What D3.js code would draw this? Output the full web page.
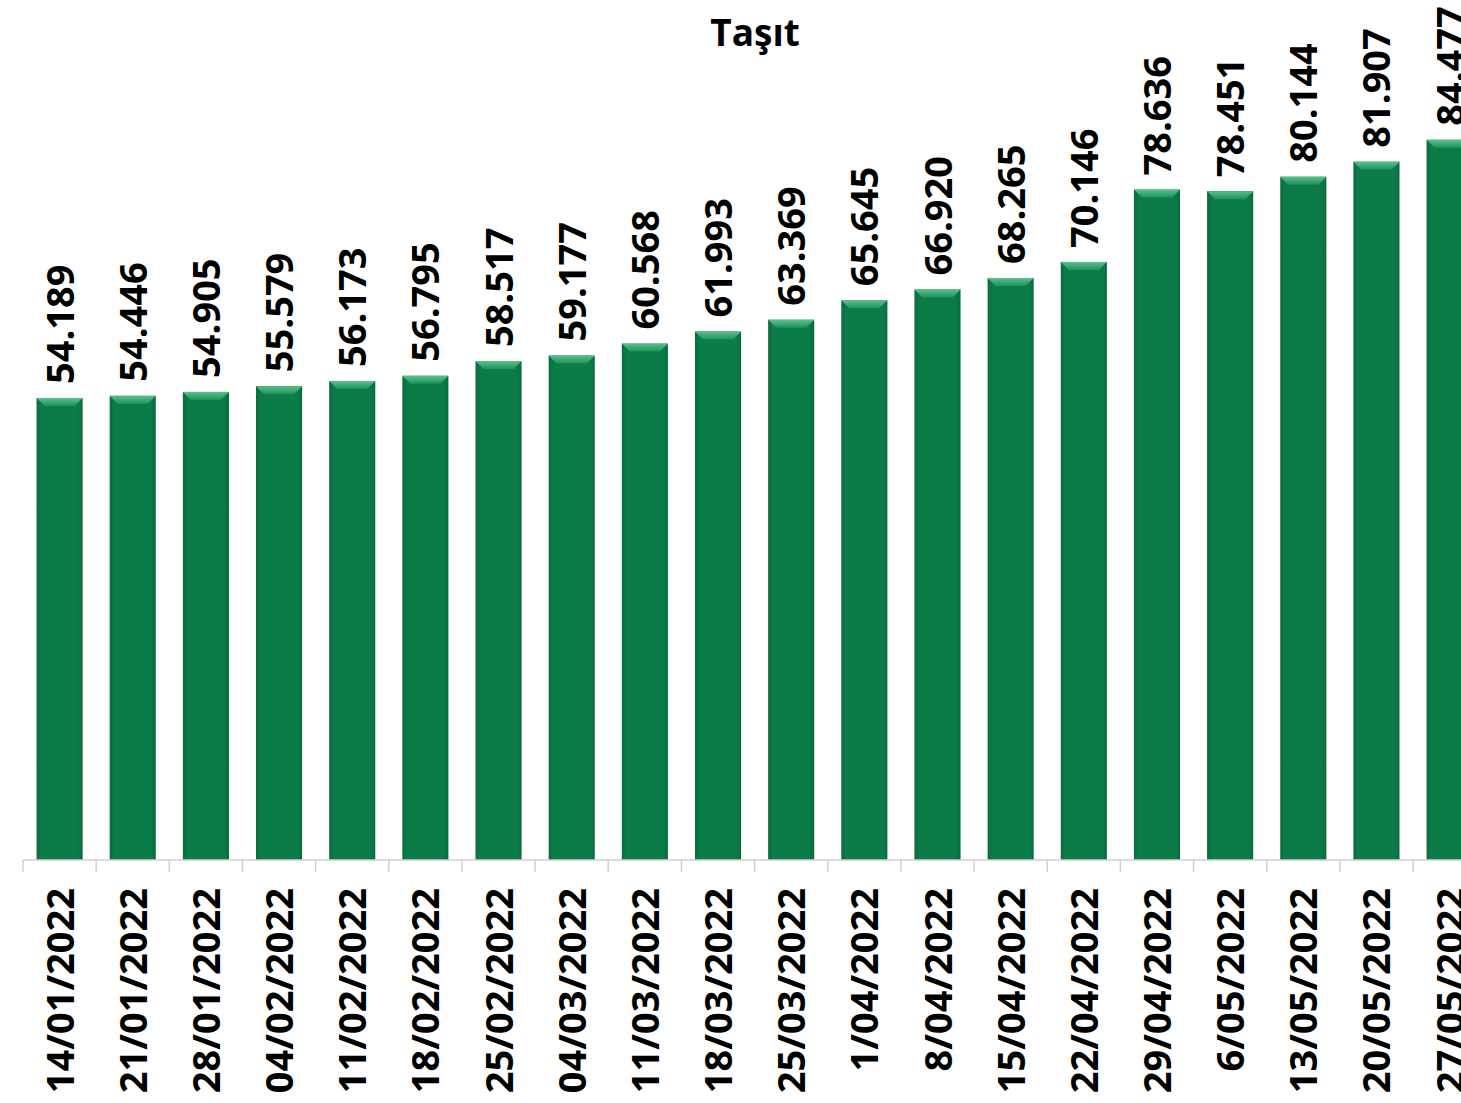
<!DOCTYPE html>
<html>
<head>
<meta charset="utf-8">
<script src="https://cdn.jsdelivr.net/npm/d3@7"></script>
<style>
  body { margin: 0; background: #fff; overflow: hidden; }
  svg { display: block; }
</style>
</head>
<body>
<svg id="chart" width="1461" height="1103"></svg>
<script>
// data
var dates = ["14/01/2022", "21/01/2022", "28/01/2022", "04/02/2022", "11/02/2022",
             "18/02/2022", "25/02/2022", "04/03/2022", "11/03/2022", "18/03/2022",
             "25/03/2022", "1/04/2022", "8/04/2022", "15/04/2022", "22/04/2022",
             "29/04/2022", "6/05/2022", "13/05/2022", "20/05/2022", "27/05/2022"];
var values = [54.189, 54.446, 54.905, 55.579, 56.173, 56.795, 58.517, 59.177, 60.568, 61.993,
              63.369, 65.645, 66.920, 68.265, 70.146, 78.636, 78.451, 80.144, 81.907, 84.477];
var valueLabels = ["54.189", "54.446", "54.905", "55.579", "56.173", "56.795", "58.517", "59.177",
                   "60.568", "61.993", "63.369", "65.645", "66.920", "68.265", "70.146", "78.636",
                   "78.451", "80.144", "81.907", "84.477"];
var title = "Taşıt";

var svg = d3.select('#chart');
var baseY = 860;

// band scale runs past the right edge, last bar gets clipped like the original
var step = 73.16;
var x = d3.scaleBand()
    .domain(dates)
    .range([23, 23 + step * dates.length])
    .paddingInner(0.37)
    .paddingOuter(0.185);

var y = d3.scaleLinear()
    .domain([0, 100])
    .range([baseY, baseY - 852.6]);

// gradients for the bevelled look
var defs = svg.append('defs');
var side = defs.append('linearGradient').attr('id', 'side')
    .attr('x1', 0).attr('x2', 1).attr('y1', 0).attr('y2', 0);
side.append('stop').attr('offset', 0).attr('stop-color', '#0a6a3c');
side.append('stop').attr('offset', 0.1).attr('stop-color', '#0b7c47');
side.append('stop').attr('offset', 0.9).attr('stop-color', '#0b7c47');
side.append('stop').attr('offset', 1).attr('stop-color', '#0a6a3c');
var topg = defs.append('linearGradient').attr('id', 'topg')
    .attr('x1', 0).attr('x2', 0).attr('y1', 0).attr('y2', 1);
topg.append('stop').attr('offset', 0).attr('stop-color', '#5cc08e');
topg.append('stop').attr('offset', 1).attr('stop-color', '#1d9259');

// title
svg.append('text')
    .attr('x', 755)
    .attr('y', 46)
    .attr('text-anchor', 'middle')
    .style('font-family', '"Open Sans", sans-serif')
    .style('font-weight', 'bold')
    .style('font-size', '37px')
    .text(title);

var bars = svg.append('g').selectAll('g')
    .data(values)
    .enter().append('g');

bars.append('rect')
    .attr('x', function(d, i) { return x(dates[i]); })
    .attr('y', function(d) { return y(d); })
    .attr('width', x.bandwidth())
    .attr('height', function(d) { return baseY - y(d); })
    .style('fill', 'url(#side)');

// top bevel
bars.append('path')
    .attr('d', function(d, i) {
        var x0 = x(dates[i]), x1 = x0 + x.bandwidth(), t = y(d), b = 8;
        return 'M' + x0 + ',' + t + 'L' + x1 + ',' + t + 'L' + (x1 - b) + ',' + (t + b) +
               'L' + (x0 + b) + ',' + (t + b) + 'Z';
    })
    .style('fill', 'url(#topg)');

// value labels
bars.append('text')
    .attr('transform', function(d, i) {
        return 'translate(' + (x(dates[i]) + x.bandwidth() / 2 + 14) + ',' + (y(d) - 14) + ') rotate(-90)';
    })
    .style('font-family', '"Open Sans", sans-serif')
    .style('font-weight', 'bold')
    .style('font-size', '38px')
    .text(function(d, i) { return valueLabels[i]; });

// x axis with ticks between categories
var axis = svg.append('g').attr('transform', 'translate(0,' + baseY + ')');
axis.append('line')
    .attr('x1', 23).attr('x2', 1461)
    .style('stroke', '#d0d0d0').style('stroke-width', 1.5);
axis.selectAll('.tick')
    .data(dates)
    .enter().append('line')
    .attr('x1', function(d) { return x(d) - x.step() * x.paddingInner() / 2; })
    .attr('x2', function(d) { return x(d) - x.step() * x.paddingInner() / 2; })
    .attr('y1', 0).attr('y2', 12)
    .style('stroke', '#d0d0d0').style('stroke-width', 1.5);

axis.selectAll('.lab')
    .data(dates)
    .enter().append('text')
    .attr('transform', function(d) {
        return 'translate(' + (x(d) + x.bandwidth() / 2 + 14) + ',28) rotate(-90)';
    })
    .attr('text-anchor', 'end')
    .style('font-family', '"Open Sans", sans-serif')
    .style('font-weight', 'bold')
    .style('font-size', '38px')
    .text(function(d) { return d; });
</script>
</body>
</html>
